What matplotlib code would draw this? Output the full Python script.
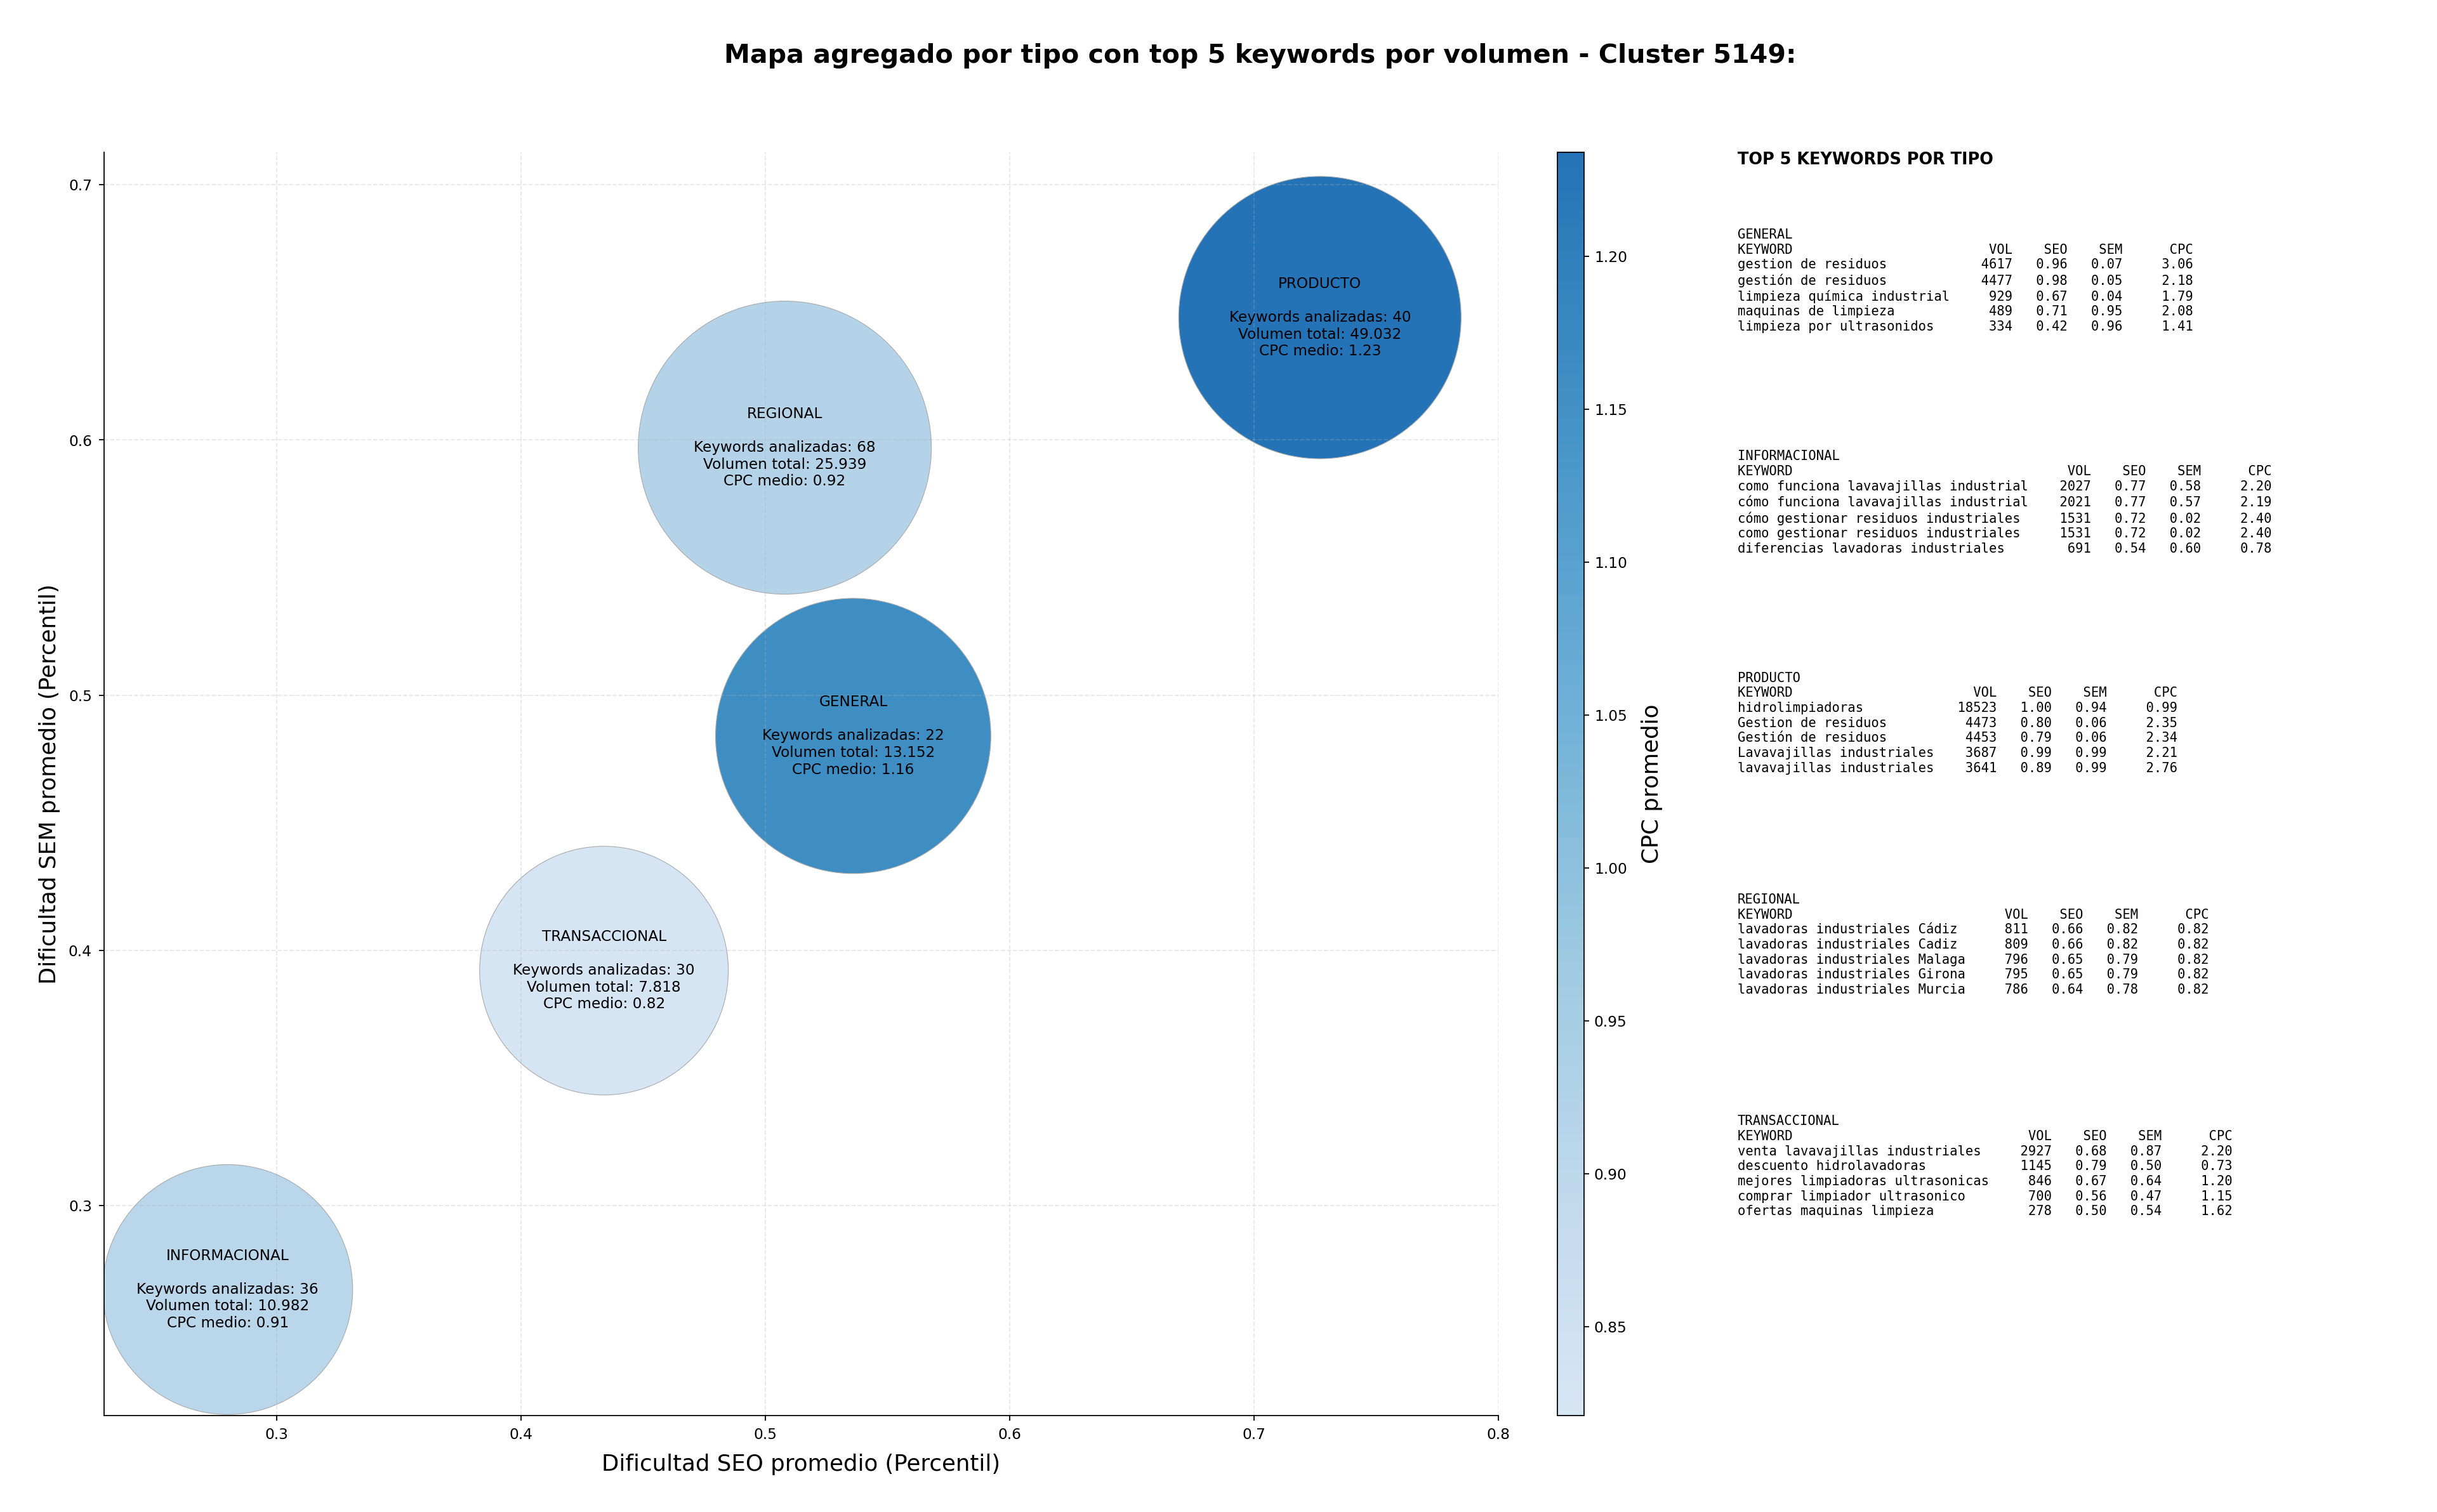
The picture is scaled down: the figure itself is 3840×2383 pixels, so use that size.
import numpy as np
import matplotlib
matplotlib.use("Agg")
import matplotlib.pyplot as plt
from matplotlib.colors import LinearSegmentedColormap

# datos agregados por tipo
tipos = ["GENERAL", "INFORMACIONAL", "PRODUCTO", "REGIONAL", "TRANSACCIONAL"]
seo_medio = [0.536, 0.280, 0.727, 0.508, 0.434]
sem_medio = [0.484, 0.267, 0.648, 0.597, 0.392]
n_keywords = [22, 36, 40, 68, 30]
volumen_total = [13152, 10982, 49032, 25939, 7818]
cpc_medio = [1.16, 0.91, 1.234, 0.92, 0.821]
tamano_burbuja = [38100, 31400, 40100, 43200, 31100]

# top 5 keywords por volumen en cada tipo: (keyword, vol, seo, sem, cpc)
top_general = [
    ("gestion de residuos", 4617, 0.96, 0.07, 3.06),
    ("gestión de residuos", 4477, 0.98, 0.05, 2.18),
    ("limpieza química industrial", 929, 0.67, 0.04, 1.79),
    ("maquinas de limpieza", 489, 0.71, 0.95, 2.08),
    ("limpieza por ultrasonidos", 334, 0.42, 0.96, 1.41),
]
top_informacional = [
    ("como funciona lavavajillas industrial", 2027, 0.77, 0.58, 2.20),
    ("cómo funciona lavavajillas industrial", 2021, 0.77, 0.57, 2.19),
    ("cómo gestionar residuos industriales", 1531, 0.72, 0.02, 2.40),
    ("como gestionar residuos industriales", 1531, 0.72, 0.02, 2.40),
    ("diferencias lavadoras industriales", 691, 0.54, 0.60, 0.78),
]
top_producto = [
    ("hidrolimpiadoras", 18523, 1.00, 0.94, 0.99),
    ("Gestion de residuos", 4473, 0.80, 0.06, 2.35),
    ("Gestión de residuos", 4453, 0.79, 0.06, 2.34),
    ("Lavavajillas industriales", 3687, 0.99, 0.99, 2.21),
    ("lavavajillas industriales", 3641, 0.89, 0.99, 2.76),
]
top_regional = [
    ("lavadoras industriales Cádiz", 811, 0.66, 0.82, 0.82),
    ("lavadoras industriales Cadiz", 809, 0.66, 0.82, 0.82),
    ("lavadoras industriales Malaga", 796, 0.65, 0.79, 0.82),
    ("lavadoras industriales Girona", 795, 0.65, 0.79, 0.82),
    ("lavadoras industriales Murcia", 786, 0.64, 0.78, 0.82),
]
top_transaccional = [
    ("venta lavavajillas industriales", 2927, 0.68, 0.87, 2.20),
    ("descuento hidrolavadoras", 1145, 0.79, 0.50, 0.73),
    ("mejores limpiadoras ultrasonicas", 846, 0.67, 0.64, 1.20),
    ("comprar limpiador ultrasonico", 700, 0.56, 0.47, 1.15),
    ("ofertas maquinas limpieza", 278, 0.50, 0.54, 1.62),
]
top_por_tipo = [top_general, top_informacional, top_producto, top_regional, top_transaccional]


def formato_miles(v):
    return f"{v:,}".replace(",", ".")


def tabla_texto(nombre, filas):
    ancho = max(len(f[0]) for f in filas) + 2
    lineas = [nombre, f"{'KEYWORD':<{ancho}}{'VOL':>6}{'SEO':>7}{'SEM':>7}{'CPC':>9}"]
    for kw, vol, seo, sem, cpc in filas:
        lineas.append(f"{kw:<{ancho}}{vol:>6}{seo:>7.2f}{sem:>7.2f}{cpc:>9.2f}")
    return "\n".join(lineas)


blues = plt.cm.Blues
cmap = LinearSegmentedColormap.from_list("blues_trunc", blues(np.linspace(0.17, 0.74, 256)))

fig = plt.figure(figsize=(24, 14.894), dpi=160)
ax = fig.add_axes([0.0427, 0.0638, 0.5721, 0.8355])
cax = fig.add_axes([0.6391, 0.0638, 0.0110, 0.8355])

sc = ax.scatter(seo_medio, sem_medio, s=tamano_burbuja, c=cpc_medio, cmap=cmap,
                edgecolors="#aaaaaa", linewidths=0.5)

for i, tipo in enumerate(tipos):
    etiqueta = (f"{tipo}\n\nKeywords analizadas: {n_keywords[i]}\n"
                f"Volumen total: {formato_miles(volumen_total[i])}\n"
                f"CPC medio: {cpc_medio[i]:.2f}")
    ax.text(seo_medio[i], sem_medio[i], etiqueta, ha="center", va="center", fontsize=10.4)

ax.set_xlim(0.2294, 0.8)
ax.set_ylim(0.2176, 0.7128)
ax.set_xlabel("Dificultad SEO promedio (Percentil)", fontsize=16, labelpad=8)
ax.set_ylabel("Dificultad SEM promedio (Percentil)", fontsize=16, labelpad=6)
ax.tick_params(labelsize=10.5, pad=5)
ax.grid(True, linestyle="--", alpha=0.3)
ax.spines["top"].set_visible(False)
ax.spines["right"].set_visible(False)

cbar = fig.colorbar(sc, cax=cax)
cbar.set_label("CPC promedio", fontsize=16, labelpad=10)
cbar.ax.tick_params(labelsize=10.5)

fig.suptitle("Mapa agregado por tipo con top 5 keywords por volumen - Cluster 5149:",
             fontsize=18.5, fontweight="bold", x=0.517, y=0.963, va="center")

fig.text(0.713, 0.8995, "TOP 5 KEYWORDS POR TIPO", fontsize=11.5, fontweight="bold", va="top")
for i, tipo in enumerate(tipos):
    fig.text(0.713, 0.849 - i * 0.1466, tabla_texto(tipo, top_por_tipo[i]),
             family="DejaVu Sans Mono", fontsize=9.25, linespacing=1.23, va="top")

fig.savefig("out.png", dpi=160)
